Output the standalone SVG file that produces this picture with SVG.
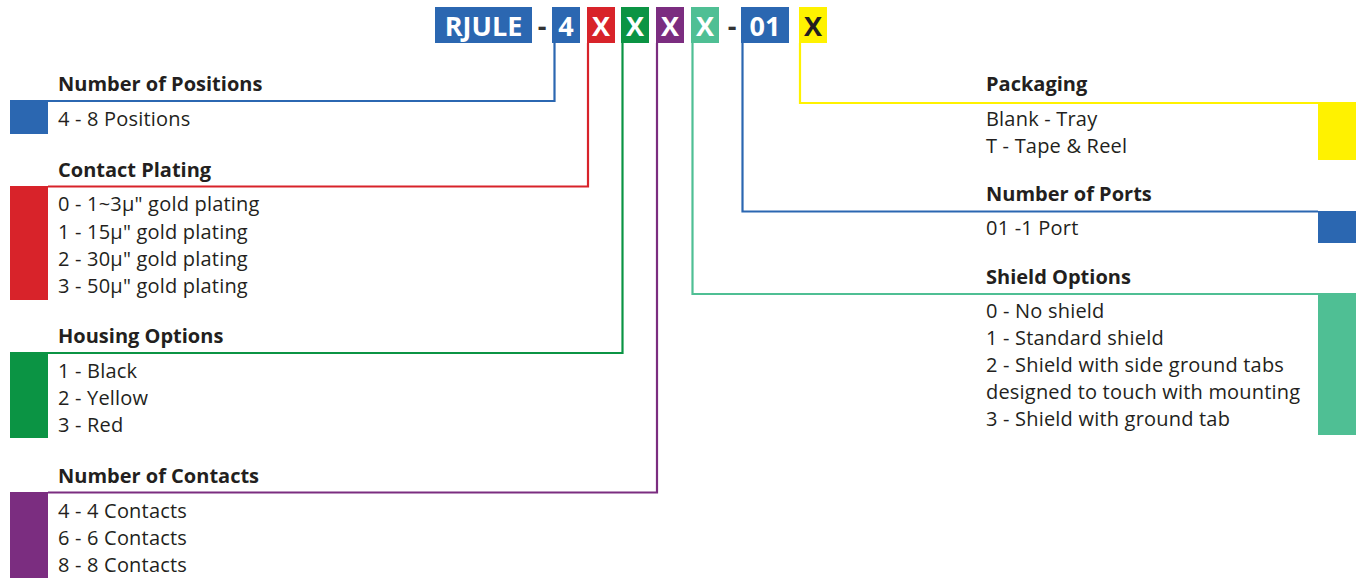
<svg xmlns="http://www.w3.org/2000/svg" width="1356" height="578" viewBox="0 0 1356 578">
<style>
text{font-family:"Open Sans","Noto Sans","Liberation Sans",sans-serif;fill:#231f20}
.h{font-weight:700;font-size:20px}
.b{font-size:20px;letter-spacing:0.2px}
.code{font-weight:700;font-size:27px;fill:#fff;text-anchor:middle}
.dash{font-weight:700;font-size:27px;fill:#333;text-anchor:middle}
.ln{fill:none;stroke-width:2.2}
</style>
<rect width="1356" height="578" fill="#fff"/>
<g id="connectors">
<polyline class="ln" stroke="#2b67b1" points="554.5,43 554.5,101 48,101"/>
<polyline class="ln" stroke="#d8232a" points="588,43 588,186.5 48,186.5"/>
<polyline class="ln" stroke="#0b9444" points="622.5,43 622.5,353 48,353"/>
<polyline class="ln" stroke="#7b2d80" points="657,43 657,492.5 48,492.5"/>
<polyline class="ln" stroke="#4fbf94" points="692.5,43 692.5,294 1318,294"/>
<polyline class="ln" stroke="#2b67b1" points="742.5,43 742.5,211.5 1318,211.5"/>
<polyline class="ln" stroke="#fff200" points="800,43 800,103 1318,103"/>
</g>
<g id="code">
<rect x="435" y="7" width="97" height="36" fill="#2b67b1"/>
<text class="code" x="483.5" y="36">RJULE</text>
<text class="dash" x="542" y="36">-</text>
<rect x="552" y="7" width="28" height="36" fill="#2b67b1"/>
<text class="code" x="566" y="36">4</text>
<rect x="587" y="7" width="28" height="36" fill="#d8232a"/>
<text class="code" x="601" y="36">X</text>
<rect x="621" y="7" width="28" height="36" fill="#0b9444"/>
<text class="code" x="635" y="36">X</text>
<rect x="656" y="7" width="28" height="36" fill="#7b2d80"/>
<text class="code" x="670" y="36">X</text>
<rect x="691" y="7" width="28" height="36" fill="#4fbf94"/>
<text class="code" x="705" y="36">X</text>
<text class="dash" x="732" y="36">-</text>
<rect x="741" y="7" width="48" height="36" fill="#2b67b1"/>
<text class="code" x="765" y="36">01</text>
<rect x="799" y="7" width="28" height="36" fill="#fff200"/>
<text class="code" x="813" y="36" style="fill:#231f20">X</text>
</g>
<g id="positions">
<rect x="10" y="100" width="38" height="34" fill="#2b67b1"/>
<text class="h" x="58" y="91">Number of Positions</text>
<text class="b" x="58" y="126">4 - 8 Positions</text>
</g>
<g id="plating">
<rect x="10" y="186" width="38" height="114" fill="#d8232a"/>
<text class="h" x="58" y="177">Contact Plating</text>
<text class="b" x="58" y="211">0 - 1~3µ" gold plating</text>
<text class="b" x="58" y="238.5">1 - 15µ" gold plating</text>
<text class="b" x="58" y="265.5">2 - 30µ" gold plating</text>
<text class="b" x="58" y="292.5">3 - 50µ" gold plating</text>
</g>
<g id="housing">
<rect x="10" y="352" width="38" height="86" fill="#0b9444"/>
<text class="h" x="58" y="343">Housing Options</text>
<text class="b" x="58" y="377.5">1 - Black</text>
<text class="b" x="58" y="404.5">2 - Yellow</text>
<text class="b" x="58" y="431.5">3 - Red</text>
</g>
<g id="contacts">
<rect x="10" y="492" width="38" height="86" fill="#7b2d80"/>
<text class="h" x="58" y="483">Number of Contacts</text>
<text class="b" x="58" y="518">4 - 4 Contacts</text>
<text class="b" x="58" y="545">6 - 6 Contacts</text>
<text class="b" x="58" y="572">8 - 8 Contacts</text>
</g>
<g id="packaging">
<rect x="1318" y="102" width="38" height="58" fill="#fff200"/>
<text class="h" x="986" y="91">Packaging</text>
<text class="b" x="986" y="126">Blank - Tray</text>
<text class="b" x="986" y="153">T - Tape &amp; Reel</text>
</g>
<g id="ports">
<rect x="1318" y="211" width="38" height="32" fill="#2b67b1"/>
<text class="h" x="986" y="201">Number of Ports</text>
<text class="b" x="986" y="235">01 -1 Port</text>
</g>
<g id="shield">
<rect x="1318" y="293" width="38" height="142" fill="#4fbf94"/>
<text class="h" x="986" y="284">Shield Options</text>
<text class="b" x="986" y="318">0 - No shield</text>
<text class="b" x="986" y="345">1 - Standard shield</text>
<text class="b" x="986" y="372">2 - Shield with side ground tabs</text>
<text class="b" x="986" y="399">designed to touch with mounting</text>
<text class="b" x="986" y="426">3 - Shield with ground tab</text>
</g>
</svg>
